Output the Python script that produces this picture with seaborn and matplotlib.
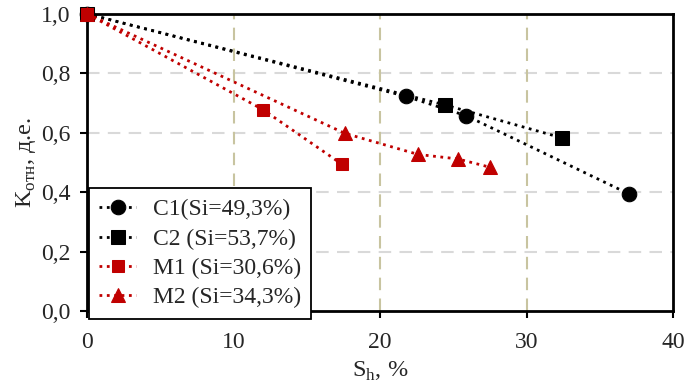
import matplotlib
matplotlib.use('Agg')
import matplotlib.pyplot as plt
import seaborn as sns
import pandas as pd

# данные
sh_c1 = [0, 21.8, 25.9, 37.0]
k_c1 = [1.0, 0.722, 0.657, 0.394]
sh_c2 = [0, 24.4, 32.4]
k_c2 = [1.0, 0.694, 0.583]
sh_m1 = [0, 12.0, 17.4]
k_m1 = [1.0, 0.678, 0.494]
sh_m2 = [0, 17.6, 22.6, 25.3, 27.5]
k_m2 = [1.0, 0.598, 0.527, 0.512, 0.484]

nombres = ['C1(Si=49,3%)', 'C2 (Si=53,7%)', 'M1 (Si=30,6%)', 'M2 (Si=34,3%)']
colores = ['black', 'black', '#c00000', '#c00000']
marcadores = ['o', 's', 's', '^']
tam = [10.5, 10, 9, 10.5]

series = [(sh_c1, k_c1), (sh_c2, k_c2), (sh_m1, k_m1), (sh_m2, k_m2)]

sns.set_style('white')
plt.rcParams['font.family'] = ['Liberation Serif', 'DejaVu Serif']
plt.rcParams['mathtext.fontset'] = 'custom'
plt.rcParams['mathtext.rm'] = 'Liberation Serif'

fig = plt.figure(figsize=(6.91, 3.85), dpi=100)
ax = fig.add_axes([0.126, 0.192, 0.848, 0.772])

for (x, y), n, c, m, s in zip(series, nombres, colores, marcadores, tam):
    df = pd.DataFrame({'Sh': x, 'K': y})
    sns.lineplot(data=df, x='Sh', y='K', ax=ax, color=c, marker=m, markersize=s,
                 markeredgecolor=c, linestyle=':', linewidth=2, label=n, clip_on=False,
                 zorder=5)

ax.set_xlim(0, 40)
ax.set_ylim(0, 1.0)
ax.set_xticks([0, 10, 20, 30, 40])
ax.set_yticks([0, 0.2, 0.4, 0.6, 0.8, 1.0])
ax.set_yticklabels(['0,0', '0,2', '0,4', '0,6', '0,8', '1,0'])

for v in [0.2, 0.4, 0.6, 0.8]:
    ax.axhline(v, color='#d9d9d9', linestyle=(0, (6, 4)), linewidth=1.5, zorder=1)
for v in [10, 20, 30]:
    ax.axvline(v, color='#c8c4a0', linestyle=(0, (6, 4)), linewidth=1.5, zorder=1)

for sp in ax.spines.values():
    sp.set_color('black')
    sp.set_linewidth(2)

ax.tick_params(axis='both', direction='out', length=5, width=1.5, color='black',
               labelsize=17, bottom=True, left=True)
ax.tick_params(axis='x', pad=10)
ax.tick_params(axis='y', pad=7)

ax.set_xlabel(r'S$_\mathregular{h}$, %', fontsize=17.5, labelpad=5)
ax.set_ylabel(r'K$_\mathregular{отн}$, д.е.', fontsize=17.5, labelpad=2)

leg = ax.legend(loc='lower left', bbox_to_anchor=(0.003, -0.027), fontsize=17,
                frameon=True, fancybox=False, edgecolor='black', framealpha=1,
                handlelength=1.55, borderpad=0.45, labelspacing=0.33,
                handletextpad=0.7, borderaxespad=0)
leg.get_frame().set_linewidth(1.3)
leg.set_zorder(10)

fig.savefig('out.png', dpi=100)
